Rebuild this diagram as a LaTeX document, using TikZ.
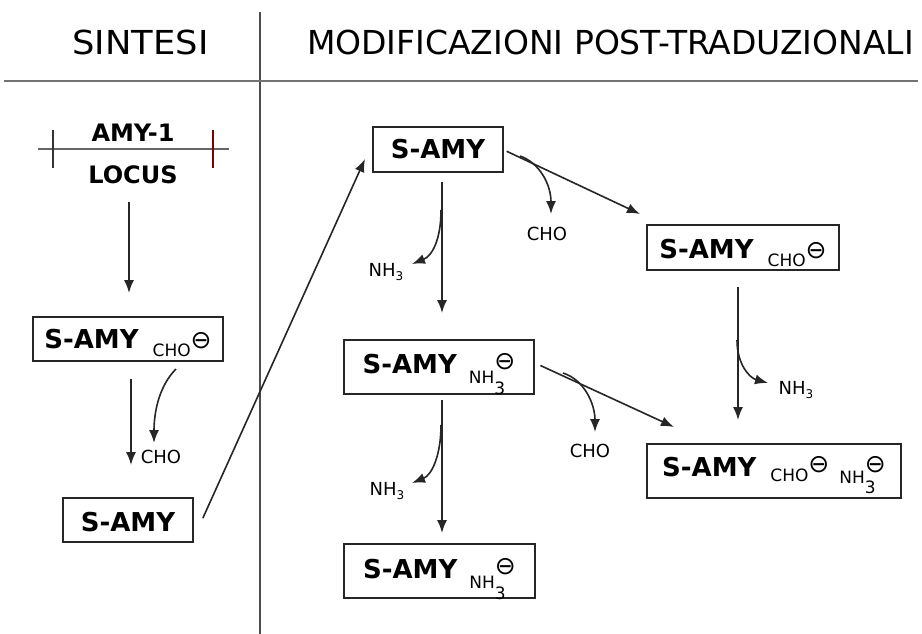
\documentclass[tikz,border=0pt]{standalone}
\usepackage{fontspec}
\setmainfont{DejaVu Sans}
\usetikzlibrary{arrows.meta}
\newcommand{\hdfont}{\fontsize{33}{33}\selectfont}
\newcommand{\bxfont}{\bfseries\fontsize{26}{26}\selectfont}
\newcommand{\sbfont}{\mdseries\fontsize{17}{17}\selectfont}
\newcommand{\lbfont}{\fontsize{18}{18}\selectfont}
\newcommand{\circm}[1]{\raisebox{#1}{\mdseries\fontsize{25}{25}\selectfont ⊖}}
\newcommand{\chosub}[1]{\raisebox{#1}{\sbfont CHO}}
\newcommand{\nhsub}[2]{\raisebox{#1}{\sbfont NH}\makebox[0pt][l]{\raisebox{#2}{\sbfont 3}}}
\newcommand{\nhlab}{\lbfont NH\raisebox{-4pt}{\fontsize{12}{12}\selectfont 3}}
\begin{document}
\begin{tikzpicture}[x=1pt,y=-1pt,
  bx/.style={draw=black!85, line width=2pt, inner xsep=0pt, inner ysep=0pt, anchor=north west},
  arr/.style={line width=1.6pt, draw=black!85, -{Latex[length=13pt,width=10pt]}},
  lab/.style={inner sep=0pt, anchor=base}]
\useasboundingbox (0,0) rectangle (922,634);
\fill[white] (0,0) rectangle (922,634);
% header
\node[lab] (sint) at (140.5,55) {\hdfont\scalebox{1.07}[1]{SINTESI}};
\node[lab] (modif) at (610.5,55) {\hdfont MODIFICAZIONI POST-TRADUZIONALI};
\coordinate (vtop) at (260,12);
\coordinate (vbot) at (260,634);
\coordinate (hl) at (4,81);
\coordinate (hr) at (918,81);
\draw[line width=1.6pt, black!70] (vtop) -- (vbot);
\draw[line width=2.6pt, black!55] (hl) -- (hr);
% locus
\node[lab] (amy) at (133,142) {\bfseries\fontsize{24}{24}\selectfont AMY-1};
\node[lab] (locus) at (133,183) {\bfseries\fontsize{24}{24}\selectfont LOCUS};
\coordinate (ll) at (38,149);
\coordinate (lr) at (229,149);
\coordinate (t1a) at (53,130);
\coordinate (t1b) at (53,168);
\coordinate (t2a) at (213,130);
\coordinate (t2b) at (213,168);
\draw[line width=1.4pt, black!60] (ll) -- (lr);
\draw[line width=1.6pt, black!80] (t1a) -- (t1b);
\draw[line width=1.6pt, red!50!black] (t2a) -- (t2b);
% boxes
\node[bx, minimum width=190pt, text height=31pt, text depth=13pt] (b1) at (32,316)
  {{\bxfont S-AMY}\hspace{14pt}\chosub{-8pt}\circm{0pt}};
\node[bx, minimum width=130pt, text height=33pt, text depth=11pt] (b2) at (62,497)
  {\bxfont S-AMY};
\node[bx, minimum width=130pt, text height=31pt, text depth=14pt] (b3) at (372,126)
  {\bxfont S-AMY};
\node[bx, minimum width=192pt, text height=33pt, text depth=12pt] (b4) at (646,224)
  {{\bxfont S-AMY}\hspace{14pt}\chosub{-8pt}\circm{0pt}};
\node[bx, minimum width=190pt, text height=33pt, text depth=21pt] (b5) at (343,339)
  {{\bxfont S-AMY}\hspace{12pt}\nhsub{-10pt}{-21pt}\circm{4pt}};
\node[bx, minimum width=254pt, text height=32pt, text depth=22pt] (b6) at (646,443)
  {{\bxfont S-AMY}\hspace{14pt}\chosub{-5pt}\circm{4pt}\hspace{10pt}\nhsub{-7pt}{-17pt}\circm{4pt}};
\node[bx, minimum width=191pt, text height=34pt, text depth=20pt] (b7) at (343,543)
  {{\bxfont S-AMY}\hspace{12pt}\nhsub{-10pt}{-21pt}\circm{4pt}};
% labels
\node[lab] (cho1) at (161,463) {\lbfont CHO};
\node[lab] (cho2) at (547,240) {\lbfont CHO};
\node[lab] (cho3) at (590,457) {\lbfont CHO};
\node[lab] (nh1) at (386,276) {\nhlab};
\node[lab] (nh2) at (796,394) {\nhlab};
\node[lab] (nh3) at (387,495) {\nhlab};
% main arrows
\draw[arr, shorten <=19pt, shorten >=23pt] ([xshift=-4pt]locus.base) -- ([xshift=-4pt]locus.base |- b1.north);
\draw[arr, shorten <=17pt, shorten >=32pt] ([xshift=3pt]b1.south) -- ([xshift=3pt]b1.south |- b2.north);
\draw[arr, shorten <=2pt] ([xshift=8pt]b2.east) -- ([xshift=-7pt,yshift=-9.5pt]b3.west);
\draw[arr, shorten <=9pt, shorten >=26pt] ([xshift=4pt]b3.south) -- ([xshift=4pt]b3.south |- b5.north);
\draw[arr, shorten <=3pt] ([yshift=-0.5pt]b3.east) -- ([xshift=-6pt,yshift=10pt]b4.north west);
\draw[arr, shorten <=16pt, shorten >=23pt] ([xshift=-5pt]b4.south) -- ([xshift=-5pt]b4.south |- b6.north);
\draw[arr, shorten <=6pt] ([yshift=4pt]b5.east) -- ([xshift=28pt,yshift=16pt]b6.north west);
\draw[arr, shorten <=5pt, shorten >=10pt] ([xshift=3pt]b5.south) -- ([xshift=3pt]b5.south |- b7.north);
% side curved arrows
\coordinate (s1) at (176,369);
\coordinate (e1) at (154,443);
\draw[arr] (s1) .. controls (160,385) and (154,410) .. (e1);
\coordinate (s2) at (520,156);
\coordinate (e2) at (551,214);
\draw[arr] (s2) .. controls (540,163) and (551,185) .. (e2);
\coordinate (s3) at (441,210);
\coordinate (e3) at (412,264);
\draw[arr] (s3) .. controls (441,240) and (432,256) .. (e3);
\coordinate (s4) at (737,340);
\coordinate (e4) at (768,383);
\draw[arr] (s4) .. controls (737,365) and (750,378) .. (e4);
\coordinate (s5) at (563,373);
\coordinate (e5) at (595,432);
\draw[arr] (s5) .. controls (585,380) and (595,405) .. (e5);
\coordinate (s6) at (441,425);
\coordinate (e6) at (412,483);
\draw[arr] (s6) .. controls (441,455) and (432,475) .. (e6);
\end{tikzpicture}
\end{document}
